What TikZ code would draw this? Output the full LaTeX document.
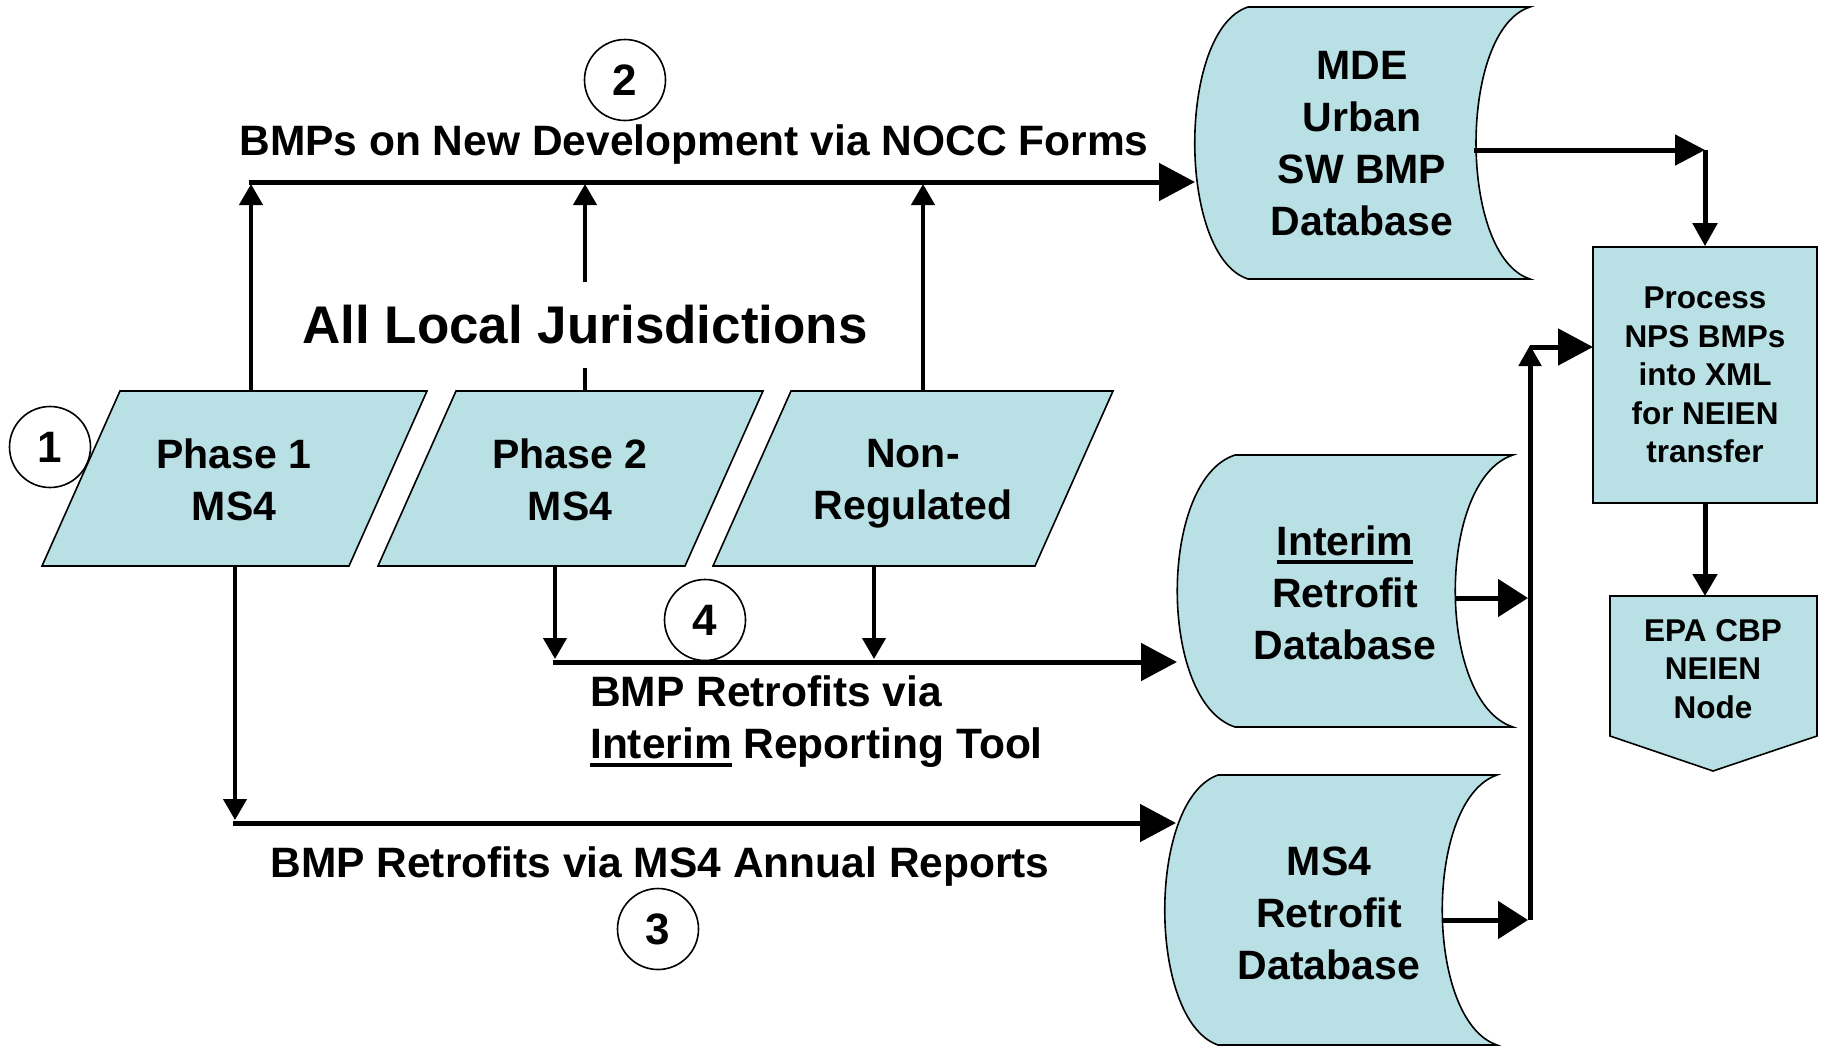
\documentclass[tikz,border=0pt]{standalone}
\usepackage{fontspec}
\setmainfont{Liberation Sans}
\usetikzlibrary{arrows.meta}
\definecolor{shapefill}{RGB}{185,224,228}
\newcommand\myul[1]{\setbox0\hbox{#1}\rlap{\rule[-0.2em]{\wd0}{0.085em}}#1}
\tikzset{
  shp/.style={draw=black, line width=1.6pt, fill=shapefill},
  lbl/.style={font=\bfseries\fontsize{41}{52}\selectfont, align=center, inner sep=0pt},
  small/.style={font=\bfseries\fontsize{31.5}{38.5}\selectfont, align=center, inner sep=0pt},
  caplbl/.style={font=\bfseries\fontsize{42.5}{52}\selectfont, inner sep=0pt},
  flow/.style={line width=5pt, line cap=rect, -{Triangle[length=36pt,width=37pt]}},
  midflow/.style={line width=5pt, line cap=rect, -{Triangle[length=30pt,width=30pt]}},
  feed/.style={line width=4.2pt, -{Triangle[length=21pt,width=23pt]}},
  plain/.style={line width=4.2pt},
  num/.style={circle, draw=black, line width=1.6pt, minimum size=81pt, inner sep=0pt, font=\bfseries\fontsize{44}{44}\selectfont},
}
\begin{document}
\begin{tikzpicture}[x=1pt,y=-1pt]
\useasboundingbox (0,0) rectangle (1825,1047);

% ---- parallelograms
\draw[shp] (42,566)--(120,391)--(427,391)--(349,566)--cycle;
\node[lbl] (p1) at (234,480) {Phase 1\\MS4};
\draw[shp] (378,566)--(456,391)--(763,391)--(685,566)--cycle;
\node[lbl] (p2) at (570,480) {Phase 2\\MS4};
\draw[shp] (713,566)--(791,391)--(1113,391)--(1035,566)--cycle;
\node[lbl] (nr) at (913,484) {Non-\\Regulated};

% ---- databases
\draw[shp] (1248,7) -- (1530,7) .. controls (1458,30) and (1458,256) .. (1530,279)
  -- (1248,279) .. controls (1177,256) and (1177,30) .. (1248,7) -- cycle;
\node[lbl] (mde) at (1362,144) {MDE\\Urban\\SW BMP\\Database};

\draw[shp] (1235,455) -- (1513,455) .. controls (1436,480) and (1436,702) .. (1513,727)
  -- (1235,727) .. controls (1158,702) and (1158,480) .. (1235,455) -- cycle;
\node[lbl] (idb) at (1345,593) {\myul{Interim}\\Retrofit\\Database};

\draw[shp] (1218,775) -- (1497,775) .. controls (1424,800) and (1424,1020) .. (1497,1045)
  -- (1218,1045) .. controls (1147,1020) and (1147,800) .. (1218,775) -- cycle;
\node[lbl] (mdb) at (1329,913) {MS4\\Retrofit\\Database};

% ---- process and EPA node
\node[shp, small, minimum width=224pt, minimum height=256pt] (proc) at (1705,375)
  {Process\\NPS BMPs\\into XML\\for NEIEN\\transfer};
\draw[shp] (1610,596)--(1817,596)--(1817,736)--(1713,771)--(1610,736)--cycle;
\node[small] (epa) at (1713,669) {EPA CBP\\NEIEN\\Node};

% ---- labels
\node[caplbl, anchor=base] (l2) at (694,155) {BMPs on New Development via NOCC Forms};
\node[font=\bfseries\fontsize{53}{60}\selectfont, inner sep=0pt, minimum height=85pt] (alj) at (585,325) {All Local Jurisdictions};
\node[caplbl, anchor=base west, align=left] (l4) at (590,758) {BMP Retrofits via\\\myul{Interim} Reporting Tool};
\node[caplbl, anchor=base] (l3) at (660,877) {BMP Retrofits via MS4 Annual Reports};

% ---- coordinates
\coordinate (p1up) at (251,391);
\coordinate (p1dn) at (235,566);
\coordinate (p2up) at (585,391);
\coordinate (p2dn) at (555,566);
\coordinate (nrup) at (923,391);
\coordinate (nrdn) at (874,566);
\coordinate (j1) at (251,184);
\coordinate (j2) at (585,184);
\coordinate (j3) at (923,184);
\coordinate (topS) at (251,182);
\coordinate (mdeIn) at (1195,182);
\coordinate (mdeOut) at (1476,150);
\coordinate (crn) at (1705,150);
\coordinate (k1) at (555,659);
\coordinate (k2) at (874,659);
\coordinate (l4S) at (555,662);
\coordinate (idbIn) at (1177,662);
\coordinate (m1) at (235,820);
\coordinate (l3S) at (235,823);
\coordinate (mdbIn) at (1176,823);
\coordinate (idbOut) at (1455,598);
\coordinate (busA) at (1528,598);
\coordinate (mdbOut) at (1442,920);
\coordinate (busB) at (1528,920);
\coordinate (busBot) at (1530,920);
\coordinate (busTop) at (1530,345);
\coordinate (busR) at (1530,347);
\coordinate (procIn) at (1593,347);
\coordinate (epaT) at (1705,596);

% ---- connectors: route 2
\draw[feed] (p1up) -- (j1);
\draw[plain] (p2up) -- (alj.south);
\draw[feed] (alj.north) -- (j2);
\draw[feed] (nrup) -- (j3);
\draw[flow] (topS) -- (mdeIn);
\draw[midflow] (mdeOut) -- (crn);
\draw[line width=5pt, -{Triangle[length=23pt,width=24pt]}] (crn) -- (proc.north);

% ---- route 4
\draw[feed] (p2dn) -- (k1);
\draw[feed] (nrdn) -- (k2);
\draw[flow] (l4S) -- (idbIn);

% ---- route 3
\draw[feed] (p1dn) -- (m1);
\draw[flow] (l3S) -- (mdbIn);

% ---- to process
\draw[line width=5pt, -{Triangle[length=30pt,width=37pt]}] (idbOut) -- (busA);
\draw[line width=5pt, -{Triangle[length=30pt,width=37pt]}] (mdbOut) -- (busB);
\draw[line width=5pt, -{Triangle[length=21pt,width=22pt]}] (busBot) -- (busTop);
\draw[line width=5pt, -{Triangle[length=35pt,width=36pt]}] (busR) -- (procIn);
\draw[line width=5pt, -{Triangle[length=22pt,width=24pt]}] (proc.south) -- (epaT);

% ---- numbers
\node[num] (c1) at (50,447) {1};
\node[num] (c2) at (625,80) {2};
\node[num] (c3) at (658,929) {3};
\node[num] (c4) at (705,620) {4};
\end{tikzpicture}
\end{document}
